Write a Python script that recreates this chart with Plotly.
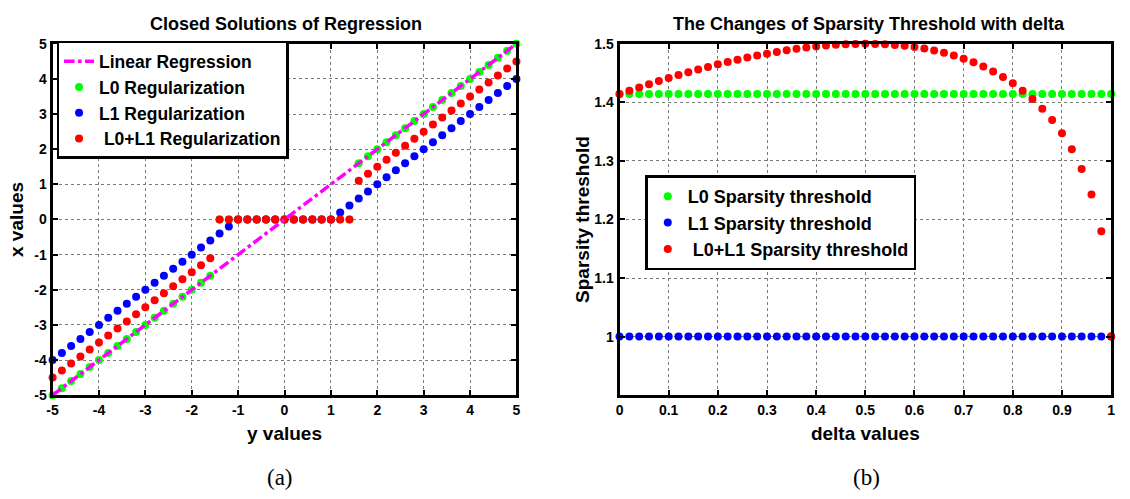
import plotly.graph_objects as go

# ---------------- data: (a) Closed Solutions of Regression ----------------
y_values = [-5.0, -4.8, -4.6, -4.4, -4.2, -4.0, -3.8, -3.6, -3.4, -3.2, -3.0,
            -2.8, -2.6, -2.4, -2.2, -2.0, -1.8, -1.6, -1.4, -1.2, -1.0,
            -0.8, -0.6, -0.4, -0.2, 0.0, 0.2, 0.4, 0.6, 0.8, 1.0,
            1.2, 1.4, 1.6, 1.8, 2.0, 2.2, 2.4, 2.6, 2.8, 3.0,
            3.2, 3.4, 3.6, 3.8, 4.0, 4.2, 4.4, 4.6, 4.8, 5.0]
linear_line_x = [-5.0, 5.0]
linear_line_y = [-5.0, 5.0]
l0_reg = [-5.0, -4.8, -4.6, -4.4, -4.2, -4.0, -3.8, -3.6, -3.4, -3.2, -3.0,
          -2.8, -2.6, -2.4, -2.2, -2.0, -1.8, -1.6, 0, 0, 0,
          0, 0, 0, 0, 0, 0, 0, 0, 0, 0,
          0, 0, 1.6, 1.8, 2.0, 2.2, 2.4, 2.6, 2.8, 3.0,
          3.2, 3.4, 3.6, 3.8, 4.0, 4.2, 4.4, 4.6, 4.8, 5.0]
l1_reg = [-4.0, -3.8, -3.6, -3.4, -3.2, -3.0, -2.8, -2.6, -2.4, -2.2, -2.0,
          -1.8, -1.6, -1.4, -1.2, -1.0, -0.8, -0.6, -0.4, -0.2, 0,
          0, 0, 0, 0, 0, 0, 0, 0, 0, 0,
          0.2, 0.4, 0.6, 0.8, 1.0, 1.2, 1.4, 1.6, 1.8, 2.0,
          2.2, 2.4, 2.6, 2.8, 3.0, 3.2, 3.4, 3.6, 3.8, 4.0]
l0l1_reg = [-4.5, -4.3, -4.1, -3.9, -3.7, -3.5, -3.3, -3.1, -2.9, -2.7, -2.5,
            -2.3, -2.1, -1.9, -1.7, -1.5, -1.3, -1.1, 0, 0, 0,
            0, 0, 0, 0, 0, 0, 0, 0, 0, 0,
            0, 0, 1.1, 1.3, 1.5, 1.7, 1.9, 2.1, 2.3, 2.5,
            2.7, 2.9, 3.1, 3.3, 3.5, 3.7, 3.9, 4.1, 4.3, 4.5]
ticks_a = [-5, -4, -3, -2, -1, 0, 1, 2, 3, 4, 5]
ticklabels_a = ["-5", "-4", "-3", "-2", "-1", "0", "1", "2", "3", "4", "5"]

# ---------------- data: (b) Sparsity threshold vs delta ----------------
delta_values = [0.0, 0.02, 0.04, 0.06, 0.08, 0.10, 0.12, 0.14, 0.16, 0.18,
                0.20, 0.22, 0.24, 0.26, 0.28, 0.30, 0.32, 0.34, 0.36, 0.38,
                0.40, 0.42, 0.44, 0.46, 0.48, 0.50, 0.52, 0.54, 0.56, 0.58,
                0.60, 0.62, 0.64, 0.66, 0.68, 0.70, 0.72, 0.74, 0.76, 0.78,
                0.80, 0.82, 0.84, 0.86, 0.88, 0.90, 0.92, 0.94, 0.96, 0.98, 1.0]
l0_threshold = [1.4142] * 51
l1_threshold = [1.0] * 51
l0l1_threshold = [1.4142, 1.4200, 1.4256, 1.4311, 1.4365, 1.4416, 1.4466, 1.4515,
                  1.4561, 1.4606, 1.4649, 1.4690, 1.4729, 1.4766, 1.4800, 1.4832,
                  1.4862, 1.4889, 1.4914, 1.4936, 1.4954, 1.4970, 1.4983, 1.4992,
                  1.4998, 1.5000, 1.4998, 1.4992, 1.4981, 1.4965, 1.4944, 1.4918,
                  1.4885, 1.4846, 1.4800, 1.4746, 1.4683, 1.4611, 1.4528, 1.4433,
                  1.4325, 1.4200, 1.4057, 1.3892, 1.3699, 1.3472, 1.3200, 1.2864,
                  1.2428, 1.1800, 1.0000]
xticks_b = [0, 0.1, 0.2, 0.3, 0.4, 0.5, 0.6, 0.7, 0.8, 0.9, 1]
xticklabels_b = ["0", "0.1", "0.2", "0.3", "0.4", "0.5", "0.6", "0.7", "0.8", "0.9", "1"]
yticks_b = [1, 1.1, 1.2, 1.3, 1.4, 1.5]
yticklabels_b = ["1", "1.1", "1.2", "1.3", "1.4", "1.5"]

GREEN = "#00FF00"
BLUE = "#0000FF"
RED = "#FF0000"
MAGENTA = "#FF00FF"
MS = 8
FONT = "Arial, Liberation Sans, Helvetica, sans-serif"

fig = go.Figure()

# (a)  -- markers first, regression line drawn on top (legend order kept by rank)
fig.add_trace(go.Scatter(x=y_values, y=l0_reg, mode="markers", name="L0 Regularization",
                         marker=dict(color=GREEN, size=MS), legendrank=2,
                         xaxis="x", yaxis="y", legend="legend", cliponaxis=False))
fig.add_trace(go.Scatter(x=y_values, y=l1_reg, mode="markers", name="L1 Regularization",
                         marker=dict(color=BLUE, size=MS), legendrank=3,
                         xaxis="x", yaxis="y", legend="legend", cliponaxis=False))
fig.add_trace(go.Scatter(x=y_values, y=l0l1_reg, mode="markers", name=" L0+L1 Regularization",
                         marker=dict(color=RED, size=MS), legendrank=4,
                         xaxis="x", yaxis="y", legend="legend", cliponaxis=False))
fig.add_trace(go.Scatter(x=linear_line_x, y=linear_line_y, mode="lines",
                         name="Linear Regression", legendrank=1,
                         line=dict(color=MAGENTA, width=3.5, dash="dashdot"),
                         xaxis="x", yaxis="y", legend="legend", cliponaxis=False))

# (b)
fig.add_trace(go.Scatter(x=delta_values, y=l0_threshold, mode="markers",
                         name="L0 Sparsity threshold",
                         marker=dict(color=GREEN, size=MS),
                         xaxis="x2", yaxis="y2", legend="legend2", cliponaxis=False))
fig.add_trace(go.Scatter(x=delta_values, y=l1_threshold, mode="markers",
                         name="L1 Sparsity threshold",
                         marker=dict(color=BLUE, size=MS),
                         xaxis="x2", yaxis="y2", legend="legend2", cliponaxis=False))
fig.add_trace(go.Scatter(x=delta_values, y=l0l1_threshold, mode="markers",
                         name=" L0+L1 Sparsity threshold",
                         marker=dict(color=RED, size=MS),
                         xaxis="x2", yaxis="y2", legend="legend2", cliponaxis=False))

W, H = 1130, 499
def px(x):
    return x / W
def py(y):
    return 1 - y / H

axis_common = dict(
    showline=True, linewidth=3, linecolor="black", mirror="ticks",
    ticks="inside", ticklen=5, tickwidth=2, tickcolor="black",
    showgrid=True, gridcolor="#7a7a7a", gridwidth=1, griddash="dot",
    zeroline=False,
    tickfont=dict(family=FONT, size=14, color="black", weight="bold"),
)
title_font = dict(family=FONT, size=19, color="black", weight="bold")

fig.update_layout(
    width=W, height=H,
    margin=dict(l=0, r=0, t=0, b=0),
    paper_bgcolor="white", plot_bgcolor="white",
    font=dict(family=FONT, color="black"),
    xaxis=dict(domain=[px(47), px(515)], range=[-5, 5], tickvals=ticks_a,
               ticktext=ticklabels_a, anchor="y",
               title=dict(text="y values", font=title_font, standoff=10),
               **axis_common),
    yaxis=dict(domain=[py(400), py(37)], range=[-5, 5], tickvals=ticks_a,
               ticktext=ticklabels_a, anchor="x",
               title=dict(text="x values", font=title_font, standoff=6),
               **axis_common),
    xaxis2=dict(domain=[px(619), px(1115)], range=[0, 1], tickvals=xticks_b,
                ticktext=xticklabels_b, anchor="y2",
                title=dict(text="delta values", font=title_font, standoff=10),
                **axis_common),
    yaxis2=dict(domain=[py(400), py(37)], range=[0.9, 1.5], tickvals=yticks_b,
                ticktext=yticklabels_b, anchor="x2",
                title=dict(text="Sparsity threshold", font=title_font, standoff=0),
                **axis_common),
    legend=dict(x=px(51), y=py(34), xanchor="left", yanchor="top",
                bgcolor="white", bordercolor="black", borderwidth=2.5,
                font=dict(family=FONT, size=17.5, color="black", weight="bold"),
                itemwidth=30, tracegroupgap=0),
    legend2=dict(x=px(645), y=py(173), xanchor="left", yanchor="top",
                 bgcolor="white", bordercolor="black", borderwidth=2.5,
                 font=dict(family=FONT, size=18, color="black", weight="bold"),
                 itemwidth=30, tracegroupgap=0),
    showlegend=True,
    annotations=[
        dict(text="Closed Solutions of Regression", x=px(282), y=py(17),
             xref="paper", yref="paper", showarrow=False,
             xanchor="center", yanchor="middle",
             font=dict(family=FONT, size=18, color="black", weight="bold")),
        dict(text="The Changes of Sparsity Threshold with delta", x=px(871), y=py(17),
             xref="paper", yref="paper", showarrow=False,
             xanchor="center", yanchor="middle",
             font=dict(family=FONT, size=18, color="black", weight="bold")),
        dict(text="(a)", x=px(276), y=py(485), xref="paper", yref="paper",
             showarrow=False, xanchor="center", yanchor="middle",
             font=dict(family="Liberation Serif, Times New Roman, serif", size=23, color="black")),
        dict(text="(b)", x=px(868), y=py(485), xref="paper", yref="paper",
             showarrow=False, xanchor="center", yanchor="middle",
             font=dict(family="Liberation Serif, Times New Roman, serif", size=23, color="black")),
    ],
)

fig.write_html("out.html")
